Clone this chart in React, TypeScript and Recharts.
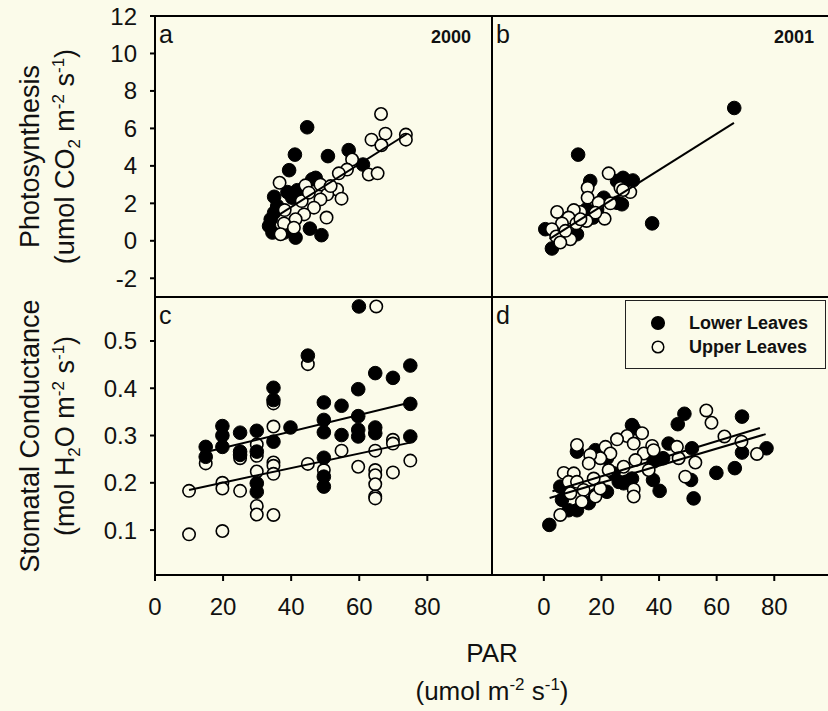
import React from 'react';
import { ScatterChart, Scatter, XAxis, YAxis, ReferenceArea, Label, Legend } from 'recharts';

const FONT = '"Liberation Sans", Arial, Helvetica, sans-serif';
const BG = '#fbfbea';
const INK = '#111';

type Pt = [number, number];

// ---- labels / ticks ----
const parTicks = [0, 20, 40, 60, 80];
const photoTicks = [-2, 0, 2, 4, 6, 8, 10, 12];
const condTicks = [0.1, 0.2, 0.3, 0.4, 0.5];
const seriesNames = ['Lower Leaves', 'Upper Leaves'];
const panelLetters = ['a', 'b', 'c', 'd'];
const years = ['2000', '2001'];

// ---- panel a : photosynthesis 2000 ----
const aLower: Pt[] = [
  [44.7, 6.06], [41.1, 4.6], [50.8, 4.52], [56.9, 4.84], [39.4, 3.77], [35, 2.35], [38.9, 2.6],
  [41.8, 2.7], [46.2, 3.28], [40.3, 2.3], [34, 1.15], [34.5, 0.44], [35, 1.5], [35.9, 1.86],
  [41.3, 0.17], [45.5, 0.65], [48.9, 0.3], [61.1, 4.07], [47.2, 3.36], [37.9, 0.44], [41.8, 2.39],
  [33.5, 0.79],
];
const aUpper: Pt[] = [
  [66.4, 6.77], [67.7, 5.72], [73.7, 5.67], [73.7, 5.4], [63.6, 5.4], [66.5, 5.1], [57.9, 4.34],
  [56.4, 3.8], [54, 3.6], [62.8, 3.54], [65.4, 3.6], [36.6, 3.1], [44.2, 2.96], [48.6, 3.0],
  [53.5, 2.74], [54.8, 2.25], [50.6, 2.48], [48.6, 2.21], [43.1, 2.12], [46.7, 1.77], [43.8, 1.41],
  [38.1, 1.64], [41.3, 1.15], [37.9, 0.93], [40.8, 0.7], [36.9, 0.35], [50.4, 1.24], [45.2, 2.57],
  [51.6, 2.92],
];
const aFit: Pt[] = [[33, 1.0], [74, 5.7]];

// ---- panel b : photosynthesis 2001 ----
const bLower: Pt[] = [
  [66.1, 7.09], [11.9, 4.6], [37.6, 0.93], [16.1, 3.19], [27.5, 3.36], [30.9, 3.22], [25.4, 3.19],
  [20.8, 2.3], [27.1, 1.95], [17.1, 1.24], [14.8, 1.68], [0.5, 0.62], [2.8, -0.41], [6.3, 0.35],
  [11.5, 0.35], [18.5, 1.68], [25.4, 2.03],
];
const bUpper: Pt[] = [
  [22.5, 3.6], [26.6, 2.83], [30, 2.6], [27.5, 2.71], [15.2, 2.83], [15.2, 2.3], [19, 2.03],
  [23.1, 2.0], [21.1, 1.18], [17.9, 1.5], [12.7, 1.54], [10.4, 1.64], [4.6, 1.54], [8.6, 1.24],
  [11.3, 0.93], [14.8, 1.06], [6.3, 0.93], [2.8, 0.62], [4.3, 0.23], [9.2, 0.08], [5.7, -0.09],
  [7.5, 0.53], [12.7, 1.15],
];
const bFit: Pt[] = [[2, 0.1], [66, 6.3]];

// ---- panel c : stomatal conductance 2000 ----
const cLower: Pt[] = [
  [59.9, 0.573], [44.9, 0.469], [64.7, 0.432], [69.9, 0.422], [75, 0.448], [34.8, 0.401],
  [34.8, 0.375], [59.7, 0.398], [49.6, 0.37], [54.8, 0.363], [75, 0.367], [59.7, 0.341],
  [49.6, 0.333], [39.8, 0.317], [19.8, 0.32], [19.8, 0.3], [25, 0.306], [29.9, 0.31],
  [49.6, 0.307], [54.8, 0.301], [59.7, 0.312], [59.7, 0.298], [64.7, 0.317], [64.7, 0.305],
  [14.9, 0.276], [14.9, 0.255], [19.8, 0.276], [25, 0.266], [29.9, 0.266], [34.8, 0.287],
  [75, 0.298], [49.6, 0.253], [49.6, 0.213], [49.6, 0.192], [29.9, 0.199], [29.9, 0.181],
  [25, 0.259],
];
const cUpper: Pt[] = [
  [65, 0.573], [44.9, 0.451], [34.8, 0.368], [34.8, 0.319], [29.9, 0.281], [29.9, 0.257],
  [25, 0.252], [14.9, 0.241], [34.8, 0.243], [34.8, 0.236], [34.8, 0.219], [29.9, 0.224],
  [44.9, 0.24], [54.8, 0.268], [64.7, 0.268], [69.9, 0.291], [69.9, 0.283], [75, 0.247],
  [59.7, 0.234], [49.6, 0.227], [64.7, 0.227], [64.7, 0.216], [69.9, 0.222], [64.7, 0.197],
  [64.7, 0.171], [64.7, 0.167], [10, 0.183], [19.8, 0.2], [19.8, 0.188], [25, 0.183],
  [29.9, 0.151], [29.9, 0.133], [34.8, 0.132], [10, 0.091], [19.8, 0.098],
];
const cLowerFit: Pt[] = [[15, 0.265], [75, 0.37]];
const cUpperFit: Pt[] = [[10, 0.185], [75, 0.285]];

// ---- panel d : stomatal conductance 2001 ----
const dLower: Pt[] = [
  [1.9, 0.111], [48.8, 0.346], [46.5, 0.324], [68.8, 0.34], [30.6, 0.322], [31.2, 0.315],
  [77.3, 0.273], [68.8, 0.264], [43.3, 0.283], [51.4, 0.273], [66.3, 0.231], [59.9, 0.221],
  [51.1, 0.206], [52, 0.167], [40.2, 0.183], [41.4, 0.252], [38.1, 0.245], [37.9, 0.206],
  [30.6, 0.209], [27.7, 0.199], [21.9, 0.181], [17.9, 0.174], [11.5, 0.266], [17.9, 0.269],
  [5.7, 0.192], [6.3, 0.164], [8.6, 0.142], [11.5, 0.142], [15.6, 0.157], [24.2, 0.22],
  [21.9, 0.252], [26, 0.202],
];
const dUpper: Pt[] = [
  [56.4, 0.353], [58.2, 0.327], [62.7, 0.298], [68.6, 0.287], [74, 0.261], [52.6, 0.243],
  [49.1, 0.213], [46.2, 0.276], [46.8, 0.252], [34.1, 0.305], [28.9, 0.299], [25.4, 0.292],
  [31.2, 0.283], [37.6, 0.278], [34.7, 0.262], [36.4, 0.227], [31.2, 0.186], [31.2, 0.171],
  [11.5, 0.28], [21.4, 0.276], [23.1, 0.262], [19.6, 0.252], [16.1, 0.259], [15.6, 0.241],
  [22.5, 0.227], [27.7, 0.234], [31.8, 0.248], [6.9, 0.221], [10.4, 0.22], [8.6, 0.202],
  [11.5, 0.202], [13.8, 0.185], [17.3, 0.209], [17.9, 0.171], [9.2, 0.178], [5.7, 0.132],
  [13.2, 0.16], [19.6, 0.188], [38.1, 0.269],
];
const dLowerFit: Pt[] = [[2, 0.168], [77, 0.303]];
const dUpperFit: Pt[] = [[3, 0.182], [75, 0.316]];

// ---- helpers ----
const rows = (pts: Pt[]) => pts.map(([x, y]) => ({ x, y }));

const FilledDot = (p: any) => <circle cx={p.cx} cy={p.cy} r={6.8} fill="#000" stroke="#000" strokeWidth={1} />;
const OpenDot = (p: any) => <circle cx={p.cx} cy={p.cy} r={6.2} fill={BG} stroke="#000" strokeWidth={1.6} />;
const NoDot = () => <g />;

const tickFont = { fill: INK, fontSize: 24, fontFamily: FONT };
const tickLineStyle = { stroke: '#000', strokeWidth: 2 };

const AXW = 60; // y-axis box width
const AXH = 40; // x-axis box height
const TITLE_SIZE = 27;
const SUB_SIZE = 17;

function PhotoTitle(props: any) {
  const vb = props.viewBox;
  const ax = vb.x + vb.width;
  const cy = vb.y + vb.height / 2;
  const x1 = ax - 116;
  const x2 = ax - 81;
  return (
    <g fontFamily={FONT} fontSize={TITLE_SIZE} fill={INK}>
      <text x={x1} y={cy} textAnchor="middle" transform={`rotate(-90 ${x1} ${cy})`}>Photosynthesis</text>
      <text x={x2} y={cy} textAnchor="middle" transform={`rotate(-90 ${x2} ${cy})`}>
        (umol CO<tspan dy={6} fontSize={SUB_SIZE}>2</tspan>
        <tspan dy={-6}> m</tspan>
        <tspan dy={-10} fontSize={SUB_SIZE}>-2</tspan>
        <tspan dy={10}> s</tspan>
        <tspan dy={-10} fontSize={SUB_SIZE}>-1</tspan>
        <tspan dy={10}>)</tspan>
      </text>
    </g>
  );
}

function CondTitle(props: any) {
  const vb = props.viewBox;
  const ax = vb.x + vb.width;
  const cy = vb.y + vb.height / 2;
  const x1 = ax - 116;
  const x2 = ax - 81;
  return (
    <g fontFamily={FONT} fontSize={TITLE_SIZE} fill={INK}>
      <text x={x1} y={cy} textAnchor="middle" transform={`rotate(-90 ${x1} ${cy})`}>Stomatal Conductance</text>
      <text x={x2} y={cy} textAnchor="middle" transform={`rotate(-90 ${x2} ${cy})`}>
        (mol H<tspan dy={6} fontSize={SUB_SIZE}>2</tspan>
        <tspan dy={-6}>O m</tspan>
        <tspan dy={-10} fontSize={SUB_SIZE}>-2</tspan>
        <tspan dy={10}> s</tspan>
        <tspan dy={-10} fontSize={SUB_SIZE}>-1</tspan>
        <tspan dy={10}>)</tspan>
      </text>
    </g>
  );
}

function ParTitle(props: any) {
  const vb = props.viewBox;
  const cx = vb.x + vb.width;
  return (
    <g fontFamily={FONT} fontSize={26} fill={INK}>
      <text x={cx} y={vb.y + 87} textAnchor="middle">PAR</text>
      <text x={cx} y={vb.y + 125} textAnchor="middle">
        (umol m<tspan dy={-10} fontSize={SUB_SIZE}>-2</tspan>
        <tspan dy={10}> s</tspan>
        <tspan dy={-10} fontSize={SUB_SIZE}>-1</tspan>
        <tspan dy={10}>)</tspan>
      </text>
    </g>
  );
}

function LegendBox(props: any) {
  const items = (props.payload || []).filter((p: any) => seriesNames.includes(p.value));
  return (
    <div
      style={{
        position: 'relative', width: 201, height: 69, boxSizing: 'border-box',
        border: '1.5px solid #222', fontFamily: FONT, fontWeight: 700, fontSize: 18, color: INK,
      }}
    >
      {items.map((p: any, i: number) => {
        const filled = seriesNames.indexOf(p.value) === 0;
        return (
          <div key={p.value} style={{ position: 'absolute', left: 0, top: 10 + i * 24, height: 24, display: 'flex', alignItems: 'center', whiteSpace: 'nowrap' }}>
            <svg width={63} height={24} style={{ display: 'block' }}>
              <circle cx={32} cy={12} r={filled ? 6.3 : 5.8} fill={filled ? '#000' : BG} stroke="#000" strokeWidth={1.5} />
            </svg>
            <span>{p.value}</span>
          </div>
        );
      })}
    </div>
  );
}

type PanelProps = {
  width: number;
  plot: { left: number; top: number; right: number; bottom: number };
  xDomain: [number, number];
  yDomain: [number, number];
  xTicks?: number[];
  yTicks?: number[];
  letter: string;
  year?: string;
  yearInset?: number;
  lower: Pt[];
  upper: Pt[];
  fits: Pt[][];
  yTitle?: any;
  xTitle?: any;
  legend?: boolean;
  openFirst?: boolean;
};

function Panel(p: PanelProps) {
  const margin = {
    left: p.plot.left - AXW,
    top: p.plot.top,
    right: p.width - p.plot.right,
    bottom: 711 - p.plot.bottom - AXH,
  };
  const lowerS = (
    <Scatter key="lower" name={seriesNames[0]} data={rows(p.lower)} shape={FilledDot} isAnimationActive={false} />
  );
  const upperS = (
    <Scatter key="upper" name={seriesNames[1]} data={rows(p.upper)} shape={OpenDot} isAnimationActive={false} />
  );
  return (
    <div style={{ position: 'absolute', left: 0, top: 0 }}>
      <ScatterChart width={p.width} height={711} margin={margin}>
        <XAxis
          type="number" dataKey="x" domain={p.xDomain} allowDataOverflow height={AXH}
          ticks={p.xTicks || parTicks} interval={0}
          tick={p.xTicks ? tickFont : false}
          tickLine={p.xTicks ? tickLineStyle : false}
          axisLine={false} tickSize={6} tickMargin={17}
          label={p.xTitle}
        />
        <YAxis
          type="number" dataKey="y" domain={p.yDomain} allowDataOverflow width={AXW}
          ticks={p.yTicks || photoTicks} interval={0}
          tick={p.yTicks ? tickFont : false}
          tickLine={p.yTicks ? tickLineStyle : false}
          axisLine={false} tickSize={5} tickMargin={13}
          label={p.yTitle}
        />
        <ReferenceArea
          x1={p.xDomain[0]} x2={p.xDomain[1]} y1={p.yDomain[0]} y2={p.yDomain[1]}
          fill="none" stroke="#000" strokeWidth={2}
        >
          <Label
            content={(lp: any) => (
              <g fontFamily={FONT} fill={INK}>
                <text x={lp.viewBox.x + 4} y={lp.viewBox.y + 27} fontSize={25}>{p.letter}</text>
                {p.year ? (
                  <text x={lp.viewBox.x + lp.viewBox.width - (p.yearInset || 20)} y={lp.viewBox.y + 27} fontSize={18} fontWeight={700} textAnchor="end">
                    {p.year}
                  </text>
                ) : null}
              </g>
            )}
          />
        </ReferenceArea>
        {p.openFirst ? [upperS, lowerS] : [lowerS, upperS]}
        {p.fits.map((f, i) => (
          <Scatter
            key={'fit' + i} name={'fit' + i} data={rows(f)} shape={NoDot} legendType="none"
            line={{ stroke: '#000', strokeWidth: 2 }} lineType="joint" isAnimationActive={false}
          />
        ))}
        {p.legend ? (
          <Legend
            layout="horizontal" verticalAlign="middle" align="center"
            content={LegendBox}
            wrapperStyle={{ left: 625, top: 300, width: 201, height: 69 }}
          />
        ) : null}
      </ScatterChart>
    </div>
  );
}

export default function App() {
  const leftX: [number, number] = [0, 99];
  const rightX: [number, number] = [-18, 99];
  const photoY: [number, number] = [-3, 12];
  const condY: [number, number] = [0.005, 0.593];
  return (
    <div style={{ position: 'absolute', left: 0, top: 0, width: 828, height: 711, overflow: 'hidden', background: BG, fontFamily: FONT }}>
      <Panel
        width={828} plot={{ left: 155, top: 16, right: 492, bottom: 297 }}
        xDomain={leftX} yDomain={photoY} yTicks={photoTicks}
        letter={panelLetters[0]} year={years[0]} yearInset={21}
        lower={aLower} upper={aUpper} fits={[aFit]} yTitle={PhotoTitle}
      />
      <Panel
        width={840} plot={{ left: 492, top: 16, right: 829, bottom: 297 }}
        xDomain={rightX} yDomain={photoY}
        letter={panelLetters[1]} year={years[1]} yearInset={15}
        lower={bLower} upper={bUpper} fits={[bFit]}
      />
      <Panel
        width={828} plot={{ left: 155, top: 297, right: 492, bottom: 575 }}
        xDomain={leftX} yDomain={condY} yTicks={condTicks} xTicks={parTicks}
        letter={panelLetters[2]}
        lower={cLower} upper={cUpper} fits={[cLowerFit, cUpperFit]} yTitle={CondTitle} xTitle={ParTitle}
        openFirst
      />
      <Panel
        width={840} plot={{ left: 492, top: 297, right: 829, bottom: 575 }}
        xDomain={rightX} yDomain={condY} xTicks={parTicks}
        letter={panelLetters[3]}
        lower={dLower} upper={dUpper} fits={[dLowerFit, dUpperFit]} legend
      />
    </div>
  );
}
